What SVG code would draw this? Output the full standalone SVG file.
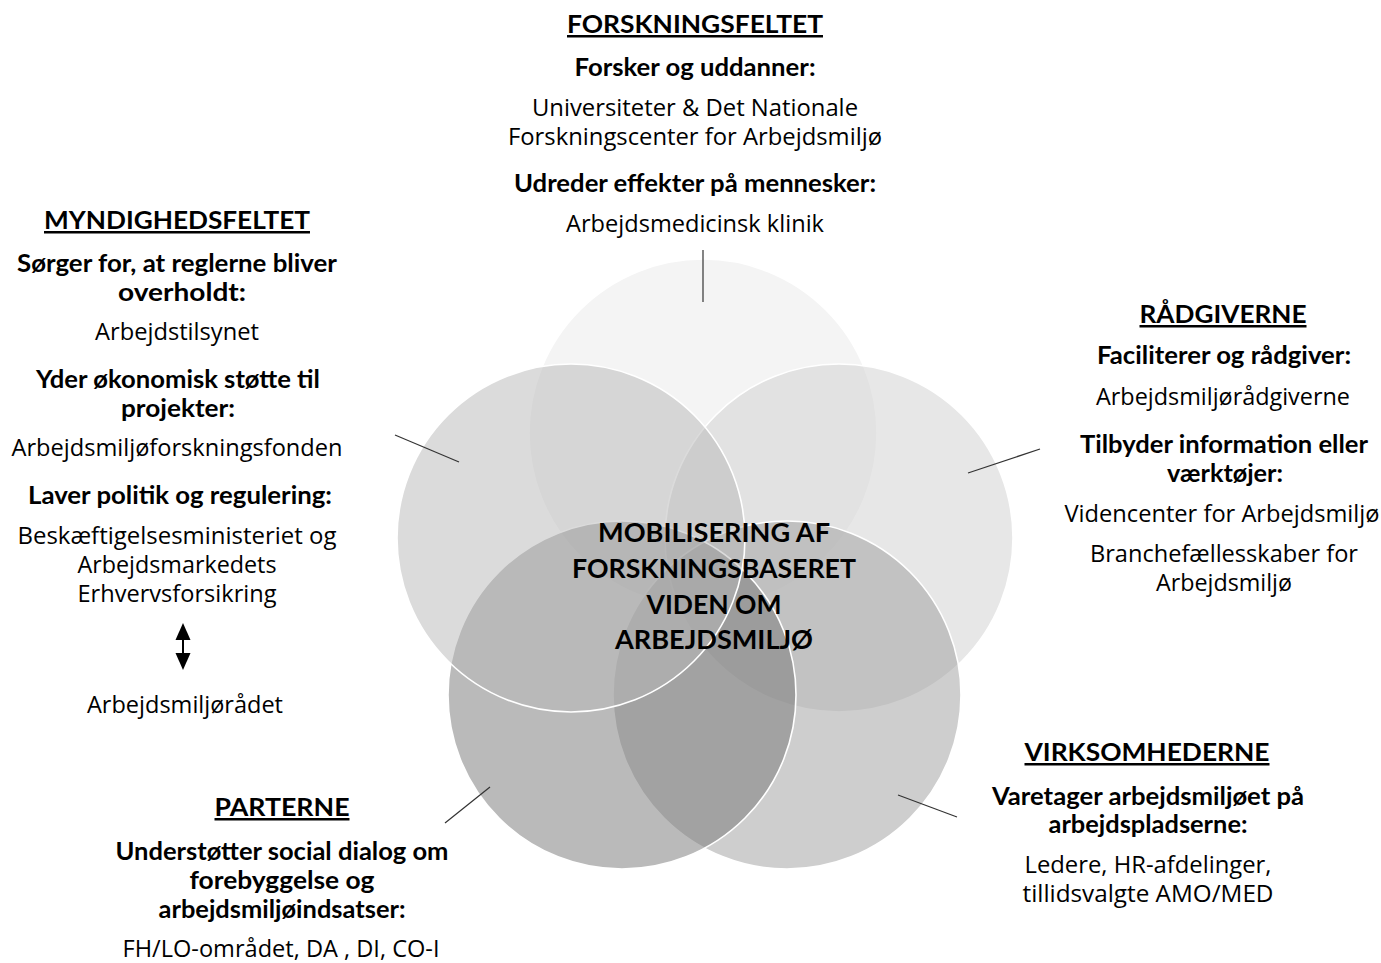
<svg xmlns="http://www.w3.org/2000/svg" width="1381" height="963" viewBox="0 0 1381 963">
<style>
.c{stroke:#ffffff;stroke-width:1.6;fill-opacity:0.5}
.t{font-family:"Lato","Liberation Sans",sans-serif;font-weight:bold;font-size:25px;fill:#000;text-anchor:middle;text-decoration:underline}
.b{font-family:"Lato","Liberation Sans",sans-serif;font-weight:bold;font-size:24px;fill:#000;text-anchor:middle}
.r{font-family:"Open Sans","Liberation Sans",sans-serif;font-size:23px;fill:#000;text-anchor:middle}
.m{font-family:"Lato","Liberation Sans",sans-serif;font-weight:bold;font-size:26px;fill:#000;text-anchor:middle}
.l{stroke:#333;stroke-width:1.2;fill:none}
.ah{fill:#000}
</style>
<rect width="1381" height="963" fill="#ffffff"/>
<g id="circles">
<circle id="c-top" class="c" cx="703" cy="433" r="174" fill="#eaeaea"/>
<circle id="c-right" class="c" cx="839" cy="538" r="174" fill="#d0d0d0"/>
<circle id="c-bottomright" class="c" cx="787" cy="695" r="174" fill="#9d9d9d"/>
<circle id="c-bottomleft" class="c" cx="622" cy="695" r="174" fill="#757575"/>
<circle id="c-left" class="c" cx="571" cy="538" r="174" fill="#b8b8b8"/>
</g>
<g id="connectors">
<line class="l" x1="703" y1="250" x2="703" y2="302"/>
<line class="l" x1="395" y1="435" x2="459" y2="462"/>
<line class="l" x1="968" y1="473" x2="1040" y2="449"/>
<line class="l" x1="445" y1="823" x2="490" y2="787"/>
<line class="l" x1="898" y1="795" x2="957" y2="817"/>
<g id="double-arrow">
<line x1="183" y1="638" x2="183" y2="655" stroke="#000" stroke-width="2"/>
<path class="ah" d="M183,623 L190.5,640 L175.5,640 Z"/>
<path class="ah" d="M183,670 L190.5,653 L175.5,653 Z"/>
</g>
</g>
<g id="center">
<text class="m" x="714" y="542" textLength="232" lengthAdjust="spacingAndGlyphs">MOBILISERING AF</text>
<text class="m" x="714" y="578" textLength="284" lengthAdjust="spacingAndGlyphs">FORSKNINGSBASERET</text>
<text class="m" x="714" y="614" textLength="135" lengthAdjust="spacingAndGlyphs">VIDEN OM</text>
<text class="m" x="714" y="649" textLength="198" lengthAdjust="spacingAndGlyphs">ARBEJDSMILJØ</text>
</g>
<g id="forskningsfeltet">
<text class="t" x="695" y="33" textLength="256" lengthAdjust="spacingAndGlyphs">FORSKNINGSFELTET</text>
<text class="b" x="695" y="76" textLength="241" lengthAdjust="spacingAndGlyphs">Forsker og uddanner:</text>
<text class="r" x="695" y="116" textLength="326" lengthAdjust="spacingAndGlyphs">Universiteter &amp; Det Nationale</text>
<text class="r" x="695" y="145" textLength="374" lengthAdjust="spacingAndGlyphs">Forskningscenter for Arbejdsmiljø</text>
<text class="b" x="695" y="192" textLength="362" lengthAdjust="spacingAndGlyphs">Udreder effekter på mennesker:</text>
<text class="r" x="695" y="232" textLength="258" lengthAdjust="spacingAndGlyphs">Arbejdsmedicinsk klinik</text>
</g>
<g id="myndighedsfeltet">
<text class="t" x="177" y="229" textLength="266" lengthAdjust="spacingAndGlyphs">MYNDIGHEDSFELTET</text>
<text class="b" x="177" y="272" textLength="320" lengthAdjust="spacingAndGlyphs">Sørger for, at reglerne bliver</text>
<text class="b" x="182" y="301" textLength="128" lengthAdjust="spacingAndGlyphs">overholdt:</text>
<text class="r" x="177" y="340" textLength="164" lengthAdjust="spacingAndGlyphs">Arbejdstilsynet</text>
<text class="b" x="178" y="388" textLength="284" lengthAdjust="spacingAndGlyphs">Yder økonomisk støtte til</text>
<text class="b" x="178" y="417" textLength="114" lengthAdjust="spacingAndGlyphs">projekter:</text>
<text class="r" x="177" y="456" textLength="331" lengthAdjust="spacingAndGlyphs">Arbejdsmiljøforskningsfonden</text>
<text class="b" x="180" y="504" textLength="304" lengthAdjust="spacingAndGlyphs">Laver politik og regulering:</text>
<text class="r" x="177" y="544" textLength="319" lengthAdjust="spacingAndGlyphs">Beskæftigelsesministeriet og</text>
<text class="r" x="177" y="573" textLength="199" lengthAdjust="spacingAndGlyphs">Arbejdsmarkedets</text>
<text class="r" x="177" y="602" textLength="199" lengthAdjust="spacingAndGlyphs">Erhvervsforsikring</text>
<text class="r" x="185" y="713" textLength="196" lengthAdjust="spacingAndGlyphs">Arbejdsmiljørådet</text>
</g>
<g id="raadgiverne">
<text class="t" x="1223" y="323" textLength="167" lengthAdjust="spacingAndGlyphs">RÅDGIVERNE</text>
<text class="b" x="1224" y="364" textLength="254" lengthAdjust="spacingAndGlyphs">Faciliterer og rådgiver:</text>
<text class="r" x="1223" y="405" textLength="254" lengthAdjust="spacingAndGlyphs">Arbejdsmiljørådgiverne</text>
<text class="b" x="1224" y="453" textLength="288" lengthAdjust="spacingAndGlyphs">Tilbyder information eller</text>
<text class="b" x="1225" y="482" textLength="116" lengthAdjust="spacingAndGlyphs">værktøjer:</text>
<text class="r" x="1222" y="522" textLength="315" lengthAdjust="spacingAndGlyphs">Videncenter for Arbejdsmiljø</text>
<text class="r" x="1224" y="562" textLength="268" lengthAdjust="spacingAndGlyphs">Branchefællesskaber for</text>
<text class="r" x="1224" y="591" textLength="136" lengthAdjust="spacingAndGlyphs">Arbejdsmiljø</text>
</g>
<g id="virksomhederne">
<text class="t" x="1147" y="761" textLength="245" lengthAdjust="spacingAndGlyphs">VIRKSOMHEDERNE</text>
<text class="b" x="1148" y="805" textLength="312" lengthAdjust="spacingAndGlyphs">Varetager arbejdsmiljøet på</text>
<text class="b" x="1148" y="833" textLength="199" lengthAdjust="spacingAndGlyphs">arbejdspladserne:</text>
<text class="r" x="1148" y="873" textLength="247" lengthAdjust="spacingAndGlyphs">Ledere, HR-afdelinger,</text>
<text class="r" x="1148" y="902" textLength="251" lengthAdjust="spacingAndGlyphs">tillidsvalgte AMO/MED</text>
</g>
<g id="parterne">
<text class="t" x="282" y="816" textLength="135" lengthAdjust="spacingAndGlyphs">PARTERNE</text>
<text class="b" x="282" y="860" textLength="333" lengthAdjust="spacingAndGlyphs">Understøtter social dialog om</text>
<text class="b" x="282" y="889" textLength="185" lengthAdjust="spacingAndGlyphs">forebyggelse og</text>
<text class="b" x="282" y="918" textLength="247" lengthAdjust="spacingAndGlyphs">arbejdsmiljøindsatser:</text>
<text class="r" x="281" y="957" textLength="317" lengthAdjust="spacingAndGlyphs">FH/LO-området, DA , DI, CO-I</text>
</g>
</svg>
